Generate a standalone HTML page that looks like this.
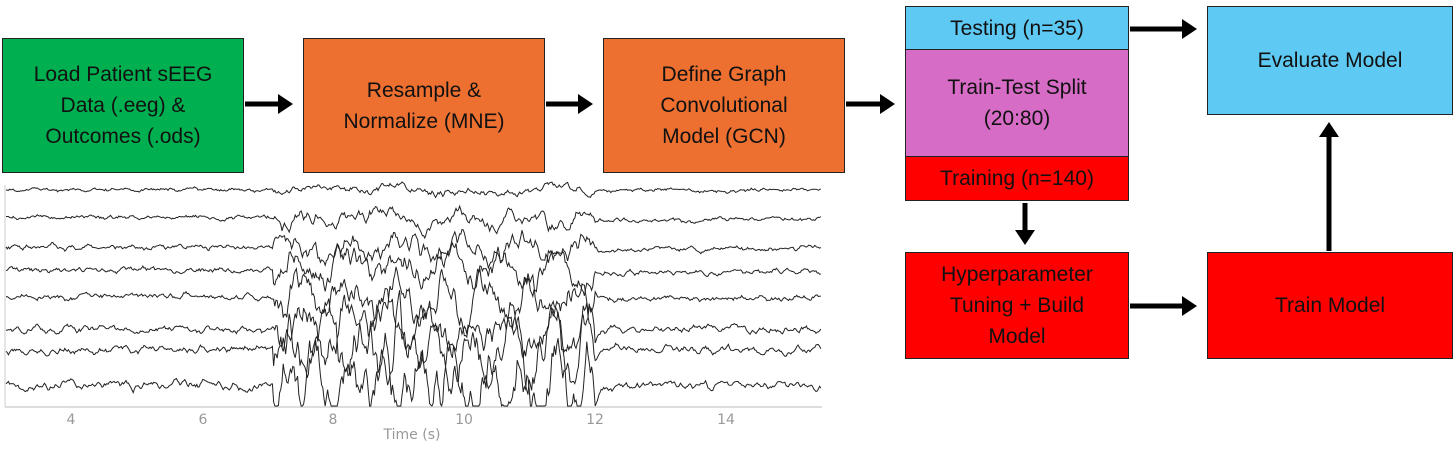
<!DOCTYPE html>
<html><head><meta charset="utf-8"><style>
body{margin:0;width:1454px;height:449px;background:#fff;position:relative;overflow:hidden;font-family:"Liberation Sans",sans-serif}
.b{position:absolute;box-sizing:border-box;border:1.5px solid #222;display:flex;align-items:center;justify-content:center;text-align:center;font-size:21px;line-height:31px;color:#111}
</style></head><body>
<div class="b" style="left:2px;top:38px;width:242px;height:135px;background:#00b050">Load Patient sEEG<br>Data (.eeg) &amp;<br>Outcomes (.ods)</div>
<div class="b" style="left:303px;top:38px;width:242px;height:135px;background:#ed7031">Resample &amp;<br>Normalize (MNE)</div>
<div class="b" style="left:603px;top:38px;width:242px;height:135px;background:#ed7031">Define Graph<br>Convolutional<br>Model (GCN)</div>
<div class="b" style="left:905px;top:6px;width:224px;height:44px;background:#5ec9f2">Testing (n=35)</div>
<div class="b" style="left:905px;top:49px;width:224px;height:108px;background:#d76cc6">Train-Test Split<br>(20:80)</div>
<div class="b" style="left:905px;top:156px;width:224px;height:45px;background:#ff0000">Training (n=140)</div>
<div class="b" style="left:1207px;top:6px;width:246px;height:109px;background:#5ec9f2">Evaluate Model</div>
<div class="b" style="left:905px;top:252px;width:224px;height:107px;background:#ff0000">Hyperparameter<br>Tuning + Build<br>Model</div>
<div class="b" style="left:1207px;top:252px;width:246px;height:107px;background:#ff0000">Train Model</div>
<svg width="1454" height="449" style="position:absolute;left:0;top:0">
<defs><marker id="a" markerWidth="4" markerHeight="4" refX="2" refY="2" orient="auto" markerUnits="strokeWidth"><path d="M0,0 L3,2 L0,4Z" fill="#000"/></marker></defs>
<g stroke="#000" stroke-width="5" marker-end="url(#a)">
<line x1="245" y1="104" x2="288" y2="104"/>
<line x1="546" y1="104" x2="588" y2="104"/>
<line x1="846" y1="104" x2="890" y2="104"/>
<line x1="1130" y1="29" x2="1192" y2="29"/>
<line x1="1130" y1="306" x2="1192" y2="306"/>
<line x1="1025" y1="203" x2="1025" y2="240"/>
<line x1="1329" y1="251" x2="1329" y2="127"/>
</g>
<g id="eeg" fill="none" stroke="#222" stroke-width="1"></g>
<line x1="5" y1="407" x2="822" y2="407" stroke="#bbb" stroke-width="1"/>
<line x1="5" y1="185" x2="5" y2="407" stroke="#ccc" stroke-width="1"/>
<g font-family="DejaVu Sans,sans-serif" font-size="14" fill="#999" text-anchor="middle">
<text x="71" y="424">4</text><text x="203" y="424">6</text><text x="333" y="424">8</text>
<text x="464" y="424">10</text><text x="595" y="424">12</text><text x="726" y="424">14</text>
<text x="412" y="439">Time (s)</text></g>
</svg>
<script>
var s=12345;function r(){s=(s*16807)%2147483647;return s/2147483647-0.5;}
var base=[190,217,247,270,297,330,350,385],g=document.getElementById('eeg'),out='';
base.forEach(function(b,i){var p=[],v=0,w=0,d=0,ph=r()*6;
for(var x=6;x<=821;x+=1.2){var t=3+(x-5)/65.5;var act=(t>7.1&&t<12)?1:0;
var amp=act?(8+i*7):(3+i*0.8);w=w*0.5+r()*amp;v=v*0.6+w*0.5;d=d*0.995+r()*(act?2:0.6);
var sl=act?Math.sin(t*(5+i)+ph)*(3+i*3):0;
var y=b+v+d*0.5+sl+r()*1.5;if(y>406)y=406;if(y<182)y=182;p.push(x.toFixed(1)+','+y.toFixed(1));}
out+='<polyline points="'+p.join(' ')+'"/>';});
g.innerHTML=out;
</script>
</body></html>
